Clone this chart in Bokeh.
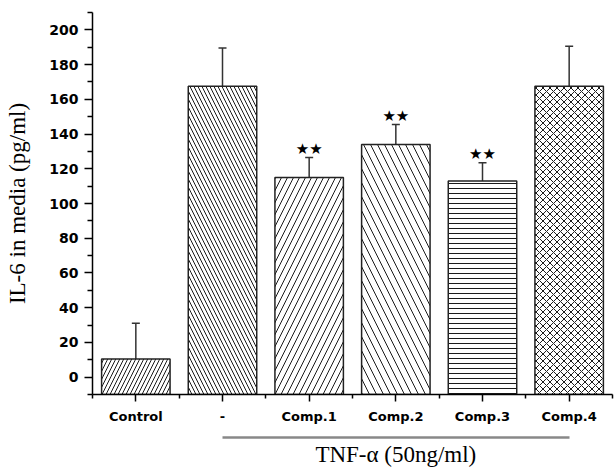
from bokeh.plotting import figure
from bokeh.models import (ColumnDataSource, FixedTicker, LinearAxis, Range1d,
                          Whisker, TeeHead)
from bokeh.embed import file_html
from bokeh.resources import INLINE
from bokeh.core.properties import value

# ---- data ----
categories = ["Control", "-", "Comp.1", "Comp.2", "Comp.3", "Comp.4"]
means = [10.5, 167.5, 115.0, 134.0, 113.0, 167.5]
errors = [20.5, 22.0, 11.5, 11.5, 10.5, 23.0]
stars = ["", "", "★★", "★★", "★★", ""]
y_major = [0, 20, 40, 60, 80, 100, 120, 140, 160, 180, 200]
y_minor = [-10, 10, 30, 50, 70, 90, 110, 130, 150, 170, 190, 210]
treated_group = ["-", "Comp.4"]          # span of the TNF-α line
treated_label = "TNF-\u03b1 (50ng/ml)"

# ---- styling ----
hatches = ["/", "\\", "/", "\\", "-", "x"]
hatch_scales = [8, 8, 12, 14, 5, 7]
Y0, Y1 = -10, 210

xs = list(range(1, len(categories) + 1))
upper = [m + e for m, e in zip(means, errors)]
star_y = [u + 5 for u in upper]
src = ColumnDataSource(dict(x=xs, top=means, upper=upper, hatch=hatches,
                            hs=hatch_scales, star=stars, sy=star_y,
                            bottom=[Y0] * len(xs)))

p = figure(width=614, height=470, output_backend="svg", toolbar_location=None,
           x_range=Range1d(0.5, len(xs) + 0.5), y_range=Range1d(Y0, Y1),
           x_axis_type=None, min_border_left=92, min_border_right=2,
           min_border_top=12, min_border_bottom=76)
p.outline_line_color = None
p.xgrid.visible = False
p.ygrid.visible = False
p.background_fill_color = "white"

p.vbar(x="x", top="top", bottom="bottom", width=0.79, source=src,
       fill_color="white", line_color="#222222", line_width=1.5,
       hatch_pattern="hatch", hatch_scale="hs", hatch_color="#1a1a1a",
       hatch_weight=1)

w = Whisker(base="x", lower="top", upper="upper", source=src,
            line_color="#333333", line_width=1.5,
            upper_head=TeeHead(size=8, line_color="#333333", line_width=1.5),
            lower_head=None)
p.add_layout(w)

p.text(x="x", y="sy", text="star", source=src, text_align="center",
       text_baseline="middle", text_font=value("DejaVu Sans"),
       text_font_size="15px", text_color="black")

# y axis
ya = p.yaxis[0]
ya.ticker = FixedTicker(ticks=y_major, minor_ticks=y_minor)
ya.axis_line_width = 1.5
ya.axis_line_color = "black"
ya.major_tick_line_width = 1.5
ya.minor_tick_line_width = 1.5
ya.major_tick_out = 8
ya.major_tick_in = 0
ya.minor_tick_out = 5
ya.minor_tick_in = 0
ya.major_label_text_font = "DejaVu Sans"
ya.major_label_text_font_style = "bold"
ya.major_label_text_font_size = "14px"
ya.major_label_text_color = "black"
ya.major_label_standoff = 6
ya.axis_label = "IL-6 in media (pg/ml)"
ya.axis_label_text_font = "Liberation Serif"
ya.axis_label_text_font_style = "normal"
ya.axis_label_text_font_size = "23px"
ya.axis_label_text_color = "black"
ya.axis_label_standoff = 16

# x axis with categories
xa = LinearAxis(ticker=FixedTicker(ticks=xs,
                                   minor_ticks=[x - 0.5 for x in xs] + [xs[-1] + 0.5]),
                major_label_overrides={x: c for x, c in zip(xs, categories)})
xa.axis_line_width = 1.5
xa.axis_line_color = "black"
xa.major_tick_line_width = 1.5
xa.minor_tick_line_width = 1.5
xa.major_tick_out = 7
xa.major_tick_in = 0
xa.minor_tick_out = 4
xa.minor_tick_in = 0
xa.major_label_text_font = "DejaVu Sans"
xa.major_label_text_font_style = "bold"
xa.major_label_text_font_size = "13px"
xa.major_label_text_color = "black"
xa.major_label_standoff = 7
xa.axis_label = " "
xa.axis_label_text_font_size = "4px"
xa.axis_label_standoff = 3
p.add_layout(xa, "below")

# TNF-α group line and label
g0 = xs[categories.index(treated_group[0])]
g1 = xs[categories.index(treated_group[1])]
ta = LinearAxis(ticker=FixedTicker(ticks=[(g0 + g1) / 2], minor_ticks=[]),
                major_label_overrides={(g0 + g1) / 2: treated_label},
                bounds=(g0, g1))
ta.axis_line_color = "#888888"
ta.axis_line_width = 2.5
ta.major_tick_line_color = None
ta.minor_tick_line_color = None
ta.major_tick_out = 0
ta.major_tick_in = 0
ta.major_label_text_font = "Liberation Serif"
ta.major_label_text_font_size = "23px"
ta.major_label_text_color = "black"
ta.major_label_standoff = 4
p.add_layout(ta, "below")

open("out.html", "w").write(file_html(p, INLINE))
